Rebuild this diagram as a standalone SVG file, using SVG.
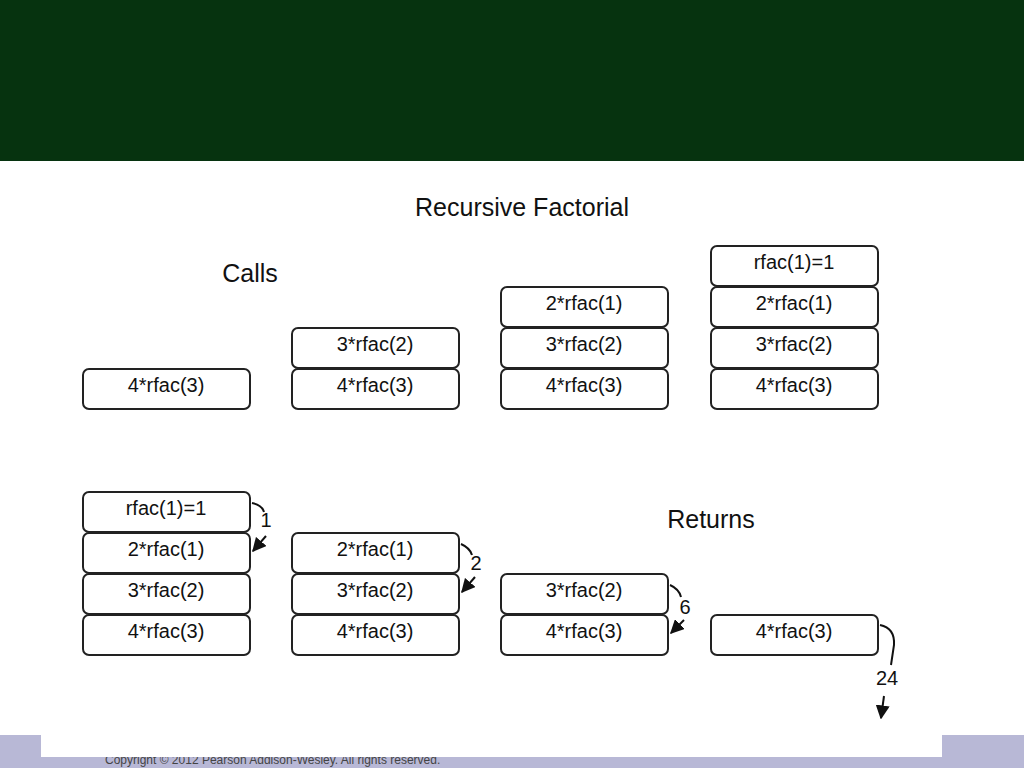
<svg xmlns="http://www.w3.org/2000/svg" width="1024" height="768" viewBox="0 0 1024 768">
<defs>
<style>
.b{fill:#fff;stroke:#222;stroke-width:2}
.t{font-family:"Liberation Sans",Arial,sans-serif;font-size:20px;fill:#111;text-anchor:middle}
.h{font-family:"Liberation Sans",Arial,sans-serif;font-size:25px;fill:#111}
.c{fill:none;stroke:#111;stroke-width:2}
</style>
<marker id="a" viewBox="0 0 10 10" refX="9" refY="5" markerWidth="7" markerHeight="7" orient="auto"><path d="M0,0L10,5L0,10z" fill="#111"/></marker>
<symbol id="box" overflow="visible"><rect class="b" x="0" y="0" width="167" height="40" rx="6"/></symbol>
</defs>
<rect width="1024" height="768" fill="#fff"/>
<rect width="1024" height="161" fill="#06330f"/>
<rect x="0" y="735" width="1024" height="33" fill="#b8b8d6"/>
<text x="105" y="764" font-family="Liberation Sans,sans-serif" font-size="12" fill="#444">Copyright © 2012 Pearson Addison-Wesley. All rights reserved.</text>
<rect x="41" y="161" width="901" height="596" fill="#fff"/>
<text class="h" x="522" y="216" text-anchor="middle">Recursive Factorial</text>
<text class="h" x="250" y="282" text-anchor="middle">Calls</text>
<text class="h" x="711" y="528" text-anchor="middle">Returns</text>
<g id="c1"><use href="#box" x="83" y="369"/><text class="t" x="166" y="392">4*rfac(3)</text></g>
<g id="c2"><use href="#box" x="292" y="328"/><text class="t" x="375" y="351">3*rfac(2)</text><use href="#box" x="292" y="369"/><text class="t" x="375" y="392">4*rfac(3)</text></g>
<g id="c3"><use href="#box" x="501" y="287"/><text class="t" x="584" y="310">2*rfac(1)</text><use href="#box" x="501" y="328"/><text class="t" x="584" y="351">3*rfac(2)</text><use href="#box" x="501" y="369"/><text class="t" x="584" y="392">4*rfac(3)</text></g>
<g id="c4"><use href="#box" x="711" y="246"/><text class="t" x="794" y="269">rfac(1)=1</text><use href="#box" x="711" y="287"/><text class="t" x="794" y="310">2*rfac(1)</text><use href="#box" x="711" y="328"/><text class="t" x="794" y="351">3*rfac(2)</text><use href="#box" x="711" y="369"/><text class="t" x="794" y="392">4*rfac(3)</text></g>
<g id="r1"><use href="#box" x="83" y="492"/><text class="t" x="166" y="515">rfac(1)=1</text><use href="#box" x="83" y="533"/><text class="t" x="166" y="556">2*rfac(1)</text><use href="#box" x="83" y="574"/><text class="t" x="166" y="597">3*rfac(2)</text><use href="#box" x="83" y="615"/><text class="t" x="166" y="638">4*rfac(3)</text></g>
<g id="r2"><use href="#box" x="292" y="533"/><text class="t" x="375" y="556">2*rfac(1)</text><use href="#box" x="292" y="574"/><text class="t" x="375" y="597">3*rfac(2)</text><use href="#box" x="292" y="615"/><text class="t" x="375" y="638">4*rfac(3)</text></g>
<g id="r3"><use href="#box" x="501" y="574"/><text class="t" x="584" y="597">3*rfac(2)</text><use href="#box" x="501" y="615"/><text class="t" x="584" y="638">4*rfac(3)</text></g>
<g id="r4"><use href="#box" x="711" y="615"/><text class="t" x="794" y="638">4*rfac(3)</text></g>
<g id="connectors">
<path class="c" d="M252,503 Q262,505 264,512"/><path class="c" d="M266,536 L253,551" marker-end="url(#a)"/>
<path class="c" d="M461,544 Q470,548 472,555"/><path class="c" d="M475,577 L462,592" marker-end="url(#a)"/>
<path class="c" d="M670,585 Q679,589 681,597"/><path class="c" d="M684,620 L671,633" marker-end="url(#a)"/>
<path class="c" d="M880,625 Q895,628 894,645 L891,665"/><path class="c" d="M884,696 L881,718" marker-end="url(#a)"/>
</g>
<g class="t" font-size="20"><text class="t" x="266" y="527">1</text><text class="t" x="476" y="570">2</text><text class="t" x="685" y="614">6</text><text class="t" x="887" y="685">24</text></g>
</svg>
